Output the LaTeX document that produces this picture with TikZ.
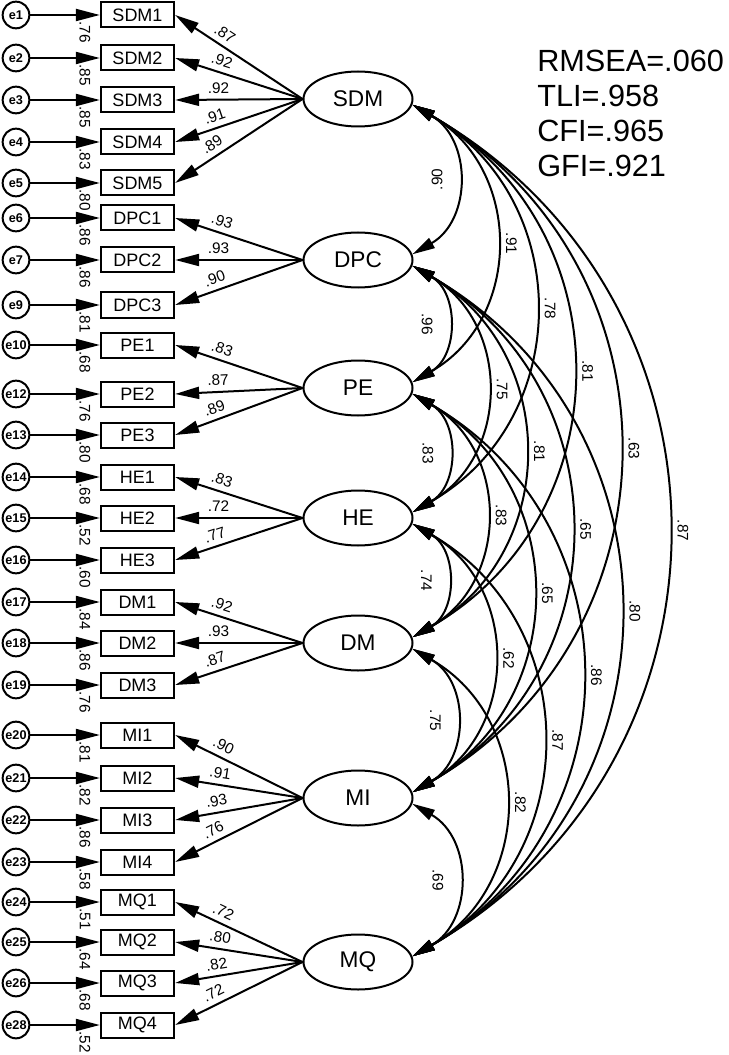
\documentclass[tikz,border=0pt]{standalone}
\usepackage{fontspec}
\setmainfont{Liberation Sans}
\usetikzlibrary{arrows.meta,positioning,shapes.geometric}

\begin{document}
\begin{tikzpicture}[
  x=0.75pt,y=-0.75pt,
  lat/.style={draw,ellipse,line width=1.5pt,minimum width=81.75pt,
    minimum height=41.25pt,inner sep=0pt,font=\fontsize{17}{17}\selectfont},
  obs/.style={draw,rectangle,line width=1.5pt,minimum width=55pt,
    minimum height=18.75pt,inner sep=0pt,font=\fontsize{13.5}{13.5}\selectfont},
  err/.style={draw,circle,line width=1.5pt,minimum size=20pt,inner sep=0pt,
    font=\fontsize{9.5}{9.5}\selectfont\bfseries},
  a/.style={-{Triangle[length=18pt,width=9pt]},line width=1.5pt},
  cv/.style={{Triangle[length=17pt,width=8.5pt]}-{Triangle[length=17pt,width=8.5pt]},
    line width=1.5pt},
  lbl/.style={font=\fontsize{11.5}{11.5}\selectfont,inner sep=1pt}
]
  \useasboundingbox (0,0) rectangle (728,1055);
  % latent factors
  \foreach \f/\y in {SDM/99,DPC/260,PE/388,HE/518,DM/643,MI/798,MQ/962}
    {\node[lat] (\f) at (358,\y) {\f};}
  % indicators, error terms, loadings
  \foreach \n/\y/\e/\r/\l/\f in {SDM1/15/e1/.76/.87/SDM,SDM2/58/e2/.85/.92/SDM,
      SDM3/100/e3/.85/.92/SDM,SDM4/142/e4/.83/.91/SDM,SDM5/183/e5/.80/.89/SDM,
      DPC1/218/e6/.86/.93/DPC,DPC2/260/e7/.86/.93/DPC,DPC3/305/e9/.81/.90/DPC,
      PE1/345/e10/.68/.83/PE,PE2/394/e12/.76/.87/PE,PE3/435/e13/.80/.89/PE,
      HE1/477/e14/.68/.83/HE,HE2/518/e15/.52/.72/HE,HE3/560/e16/.60/.77/HE,
      DM1/602/e17/.84/.92/DM,DM2/643/e18/.86/.93/DM,DM3/685/e19/.76/.87/DM,
      MI1/735/e20/.81/.90/MI,MI2/778/e21/.82/.91/MI,MI3/820/e22/.86/.93/MI,
      MI4/862/e23/.58/.76/MI,MQ1/902/e24/.51/.72/MQ,MQ2/942/e25/.64/.80/MQ,
      MQ3/983/e26/.68/.82/MQ,MQ4/1025/e28/.52/.72/MQ}
  {
    \node[obs] (\n) at (137.5,\y) {\n};
    \node[err] (\e) at (16,\y) {\e};
    \node[lbl,rotate=-90] (r\n) at (85,\y+17) {\r};
    \draw[a] (\e) -- (\n);
    \draw[a] (\f.west) -- node[lbl,sloped,above=3pt,pos=0.66] (l\n) {\l} (\n.east);
  }
  % covariances
  \foreach \a/\b/\v/\s/\rot in {SDM/DPC/.90/-15/90,SDM/PE/.91/12/-90,
      SDM/HE/.78/12/-90,SDM/DM/.81/12/-90,SDM/MI/.63/12/-90,SDM/MQ/.87/12/-90,
      DPC/PE/.96/-15/-90,DPC/HE/.75/12/-90,DPC/DM/.81/12/-90,DPC/MI/.65/12/-90,
      DPC/MQ/.80/12/-90,PE/HE/.83/-15/-90,PE/DM/.83/12/-90,PE/MI/.65/12/-90,
      PE/MQ/.86/12/-90,HE/DM/.74/-15/-90,HE/MI/.62/12/-90,HE/MQ/.87/12/-90,
      DM/MI/.75/-15/-90,DM/MQ/.82/12/-90,MI/MQ/.69/-15/-90}
    {\draw[cv] (\a.-6) to[out=-30,in=30,looseness=1.18]
      node[lbl,xshift=\s pt,rotate=\rot] (c\a\b) {\v} (\b.6);}
  % fit indices
  \node[anchor=north west,inner sep=0pt,align=left,
    font=\fontsize{23}{26.25}\selectfont] (fit) at (537,50)
    {RMSEA=.060\\TLI=.958\\CFI=.965\\GFI=.921};
\end{tikzpicture}
\end{document}
